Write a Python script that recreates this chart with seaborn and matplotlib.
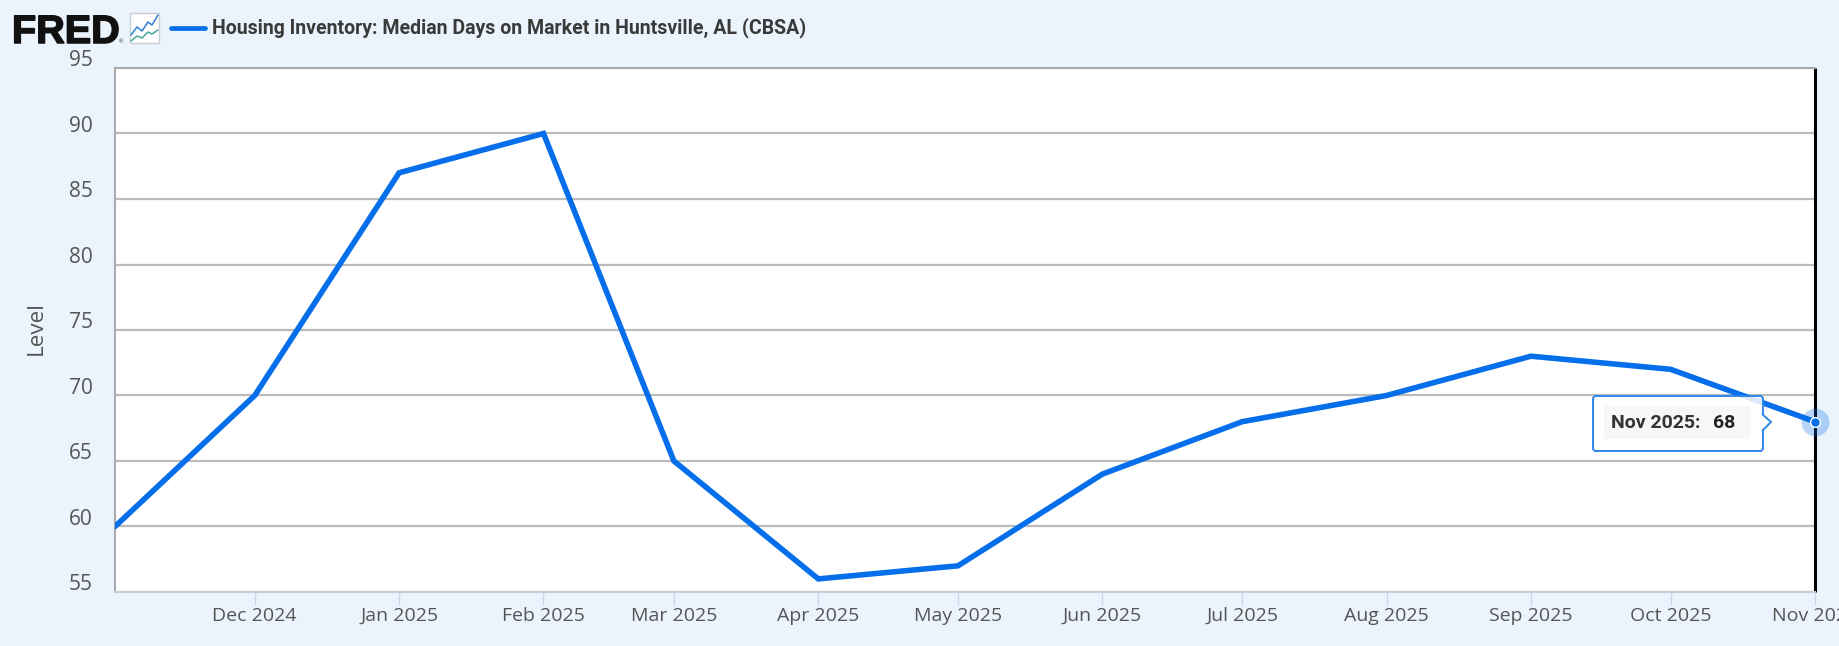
import matplotlib
matplotlib.use("Agg")
import matplotlib.pyplot as plt
import matplotlib.dates as mdates
import matplotlib.patheffects as pe
from matplotlib.patches import FancyBboxPatch, Polygon, Rectangle
from matplotlib.transforms import ScaledTranslation, Affine2D
import pandas as pd
import seaborn as sns

months = ["2024-11-01", "2024-12-01", "2025-01-01", "2025-02-01", "2025-03-01", "2025-04-01", "2025-05-01",
          "2025-06-01", "2025-07-01", "2025-08-01", "2025-09-01", "2025-10-01", "2025-11-01"]
days_on_market = [60, 70, 87, 90, 65, 56, 57, 64, 68, 70, 73, 72, 68]
y_ticks = [55, 60, 65, 70, 75, 80, 85, 90, 95]
series_name = "Housing Inventory: Median Days on Market in Huntsville, AL (CBSA)"
tooltip_label = "Nov 2025:"
tooltip_value = "68"

W, H = 1840, 646
BG = "#EBF3FC"
BLUE = "#056EEA"
TEXT = "#555555"

sns.set_theme(style="white")
plt.rcParams["font.family"] = ["Open Sans", "DejaVu Sans"]

df = pd.DataFrame({"date": pd.to_datetime(months), "value": days_on_market})

fig = plt.figure(figsize=(W / 100, H / 100), dpi=100, facecolor=BG)
# axes box in pixels
ax = fig.add_axes([115 / W, 1 - 592 / H, (1815 - 115) / W, (592 - 68) / H], facecolor="white")
sns.lineplot(data=df, x="date", y="value", color=BLUE, linewidth=4.0, ax=ax, clip_on=True,
             solid_joinstyle="miter", zorder=3)

ax.set_xlim(df["date"].iloc[0], df["date"].iloc[-1])
ax.set_ylim(55, 95)
ax.set_yticks(y_ticks)
ax.yaxis.grid(True, color="#BBBBBB", linewidth=1.6)
ax.set_axisbelow(True)
ax.set_xlabel("")
ax.set_ylabel("Level", fontsize=16.2, color=TEXT, labelpad=0)
ax.yaxis.set_label_coords((47 - 115) / (1815 - 115), (592 - 328) / (592 - 68))

ax.set_xticks(df["date"].iloc[1:])
ax.xaxis.set_major_formatter(mdates.DateFormatter("%b %Y"))
ax.tick_params(axis="x", length=9.5, width=1, color="#CCD6EB", labelcolor=TEXT, labelsize=14, pad=1.5, bottom=True)
ax.tick_params(axis="y", length=0, labelcolor=TEXT, labelsize=15, pad=16)

shift = ScaledTranslation(0, 1.5 / 100, fig.dpi_scale_trans)
for lab in ax.get_yticklabels():
    lab.set_va("baseline")
    lab.set_transform(lab.get_transform() + shift)

for side, col, lw in [("left", "#AAAAAA", 1.5), ("top", "#AAAAAA", 1.5), ("bottom", "#C8CCD8", 1.5), ("right", "black", 2.2)]:
    ax.spines[side].set_visible(True)
    ax.spines[side].set_color(col)
    ax.spines[side].set_linewidth(lw)
ax.spines["right"].set_capstyle("butt")

# pixel coordinates, origin top left
px = Affine2D().scale(1, -1).translate(0, H)

# header
logo = fig.text(12 / W, 1 - 43 / H, "FRED", fontsize=28.5, family="Liberation Sans", weight="bold", color="#111111", va="baseline")
logo.set_path_effects([pe.withStroke(linewidth=1.1, foreground="#111111")])
fig.text(119 / W, 1 - 43 / H, "®", fontsize=4, color="#333333", va="baseline")
fig.add_artist(plt.Line2D([171, 205], [28, 28], color=BLUE, lw=3.4, transform=px))
fig.text(212 / W, 1 - 28 / H, series_name, fontsize=14.05, family="Roboto", weight="bold", color="#3A3A3A", va="center")

# small chart icon next to the logo
fig.add_artist(Rectangle((130, 13), 29, 30, transform=px, fc="white", ec="#C9CED6", lw=1))
fig.add_artist(plt.Line2D([131, 137, 142, 148, 152, 158], [35, 27, 31, 22, 25, 15], color="#2F80D8", lw=1.1, transform=px))
fig.add_artist(plt.Line2D([131, 137, 142, 148, 152, 158], [41, 36, 38, 32, 34, 30], color="#46A99A", lw=1.1, transform=px))

# hover marker on the last point
last = df.iloc[-1]
ax.plot(last["date"], last["value"], "o", ms=20, color=BLUE, alpha=0.28, mec="none", clip_on=False, zorder=5)
ax.plot(last["date"], last["value"], "o", ms=7, color=BLUE, mec="white", mew=1, clip_on=False, zorder=6)

# tooltip
fig.add_artist(FancyBboxPatch((1593, 396), 170, 55, boxstyle="round,pad=0,rounding_size=3", transform=px,
                              fc=(1, 1, 1, 0.85), ec="#2F86EA", lw=1.4, zorder=7))
fig.add_artist(Polygon([(1762, 414), (1771, 422), (1762, 431)], closed=False, transform=px,
                       fc="white", ec="#2F86EA", lw=1.4, zorder=7))
fig.add_artist(Polygon([(1761, 415), (1768, 422), (1761, 430)], transform=px, fc="white", ec="none", zorder=7))
fig.add_artist(Rectangle((1604, 406), 146, 33, transform=px, fc="#F7F7F7", ec="none", zorder=7))
fig.text(1611 / W, 1 - 423 / H, tooltip_label, fontsize=14, family="Roboto", weight="bold", color="#333333", va="center", zorder=8)
fig.text(1713 / W, 1 - 423 / H, tooltip_value, fontsize=14, family="Roboto", weight="bold", color="#222222", va="center", zorder=8)

fig.savefig("out.png", dpi=100, facecolor=BG)
